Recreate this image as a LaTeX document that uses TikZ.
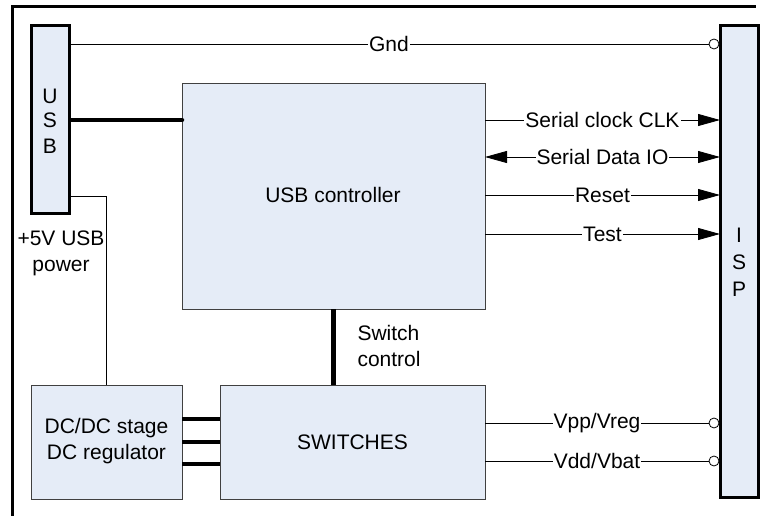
\documentclass[tikz,border=0pt]{standalone}
\usepackage{fontspec}
\setmainfont{Liberation Sans}
\usetikzlibrary{arrows.meta}
\definecolor{boxfill}{RGB}{229,236,247}
\begin{document}
\begin{tikzpicture}[x=1pt,y=-1pt,
  font=\fontsize{21}{26}\selectfont,
  blk/.style={draw=black!75,line width=0.9pt,fill=boxfill,inner sep=0pt,outer sep=0pt},
  port/.style={draw=black,line width=3pt,fill=boxfill,inner sep=0pt,outer sep=0pt},
  wire/.style={draw=black,line width=0.8pt},
  bus/.style={draw=black,line width=4.5pt},
  lbl/.style={fill=white,inner sep=1pt},
  term/.style={circle,draw=black,line width=0.8pt,fill=white,minimum size=10pt,inner sep=0pt,outer sep=0pt},
  tip/.style={-{Triangle[length=22pt,width=12pt]}},
  tips/.style={{Triangle[length=22pt,width=12pt]}-{Triangle[length=22pt,width=12pt]}}
]
\useasboundingbox (0,0) rectangle (764,516);
% frame
\draw[line width=3pt] (12,516) -- (12,7) -- (756,7);

% boxes
\node[port,minimum width=38pt,minimum height=188pt] (usb) at (50,120) {};
\node[port,minimum width=38pt,minimum height=471pt] (isp) at (739,261.5) {};
\node[blk,minimum width=303pt,minimum height=226pt] (ctrl) at (333.5,196) {};
\node[blk,minimum width=151pt,minimum height=114pt] (dcdc) at (106.5,442) {};
\node[blk,minimum width=265pt,minimum height=114pt] (sw) at (352.5,442) {};

% box texts
\node (usbU) at (50,96) {U};
\node (usbS) at (50,120) {S};
\node (usbB) at (50,146) {B};
\node (ispI) at (739,235) {I};
\node (ispS) at (739,262) {S};
\node (ispP) at (739,289) {P};
\node (ctrlt) at (333,195) {USB controller};
\node[align=center] (dcdct) at (106.5,441) {DC/DC stage\\DC regulator};
\node (swt) at (352.5,442) {SWITCHES};

% terminals
\node[term] (tg) at (714,44) {};
\node[term] (tvpp) at (714,423) {};
\node[term] (tvdd) at (714,461) {};

% connectors
\draw[wire] (usb.east |- 0,44) -- node[lbl]{Gnd} (tg);
\draw[bus,line cap=round,shorten <=2.25pt] (usb.east |- 0,120) -- (ctrl.west |- 0,120);
\draw[wire] (usb.east |- 0,196) -| (dcdc.north);
\node[align=center] (pw) at (61,253) {+5V USB\\power};

\draw[wire,tip] (ctrl.east |- 0,120) -- node[lbl]{Serial clock CLK} (isp.west |- 0,120);
\draw[wire,tips] (ctrl.east |- 0,157) -- node[lbl]{Serial Data IO} (isp.west |- 0,157);
\draw[wire,tip] (ctrl.east |- 0,195) -- node[lbl]{Reset} (isp.west |- 0,195);
\draw[wire,tip] (ctrl.east |- 0,234) -- node[lbl]{Test} (isp.west |- 0,234);

\draw[bus] (ctrl.south) -- (ctrl.south |- sw.north);
\node[align=left,anchor=west] (swc) at (354,346) {Switch\\control};

\draw[bus] (dcdc.east |- 0,419) -- (sw.west |- 0,419);
\draw[bus] (dcdc.east |- 0,442) -- (sw.west |- 0,442);
\draw[bus] (dcdc.east |- 0,464) -- (sw.west |- 0,464);

\draw[wire] (sw.east |- tvpp) -- node[lbl]{Vpp/Vreg} (tvpp);
\draw[wire] (sw.east |- tvdd) -- node[lbl]{Vdd/Vbat} (tvdd);
\end{tikzpicture}
\end{document}
